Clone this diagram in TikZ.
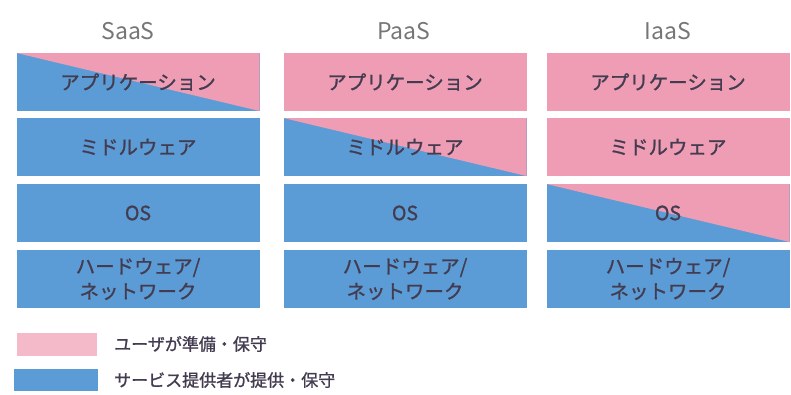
\documentclass[tikz,border=0pt]{standalone}
\usepackage{fontspec}
\newfontfamily\jp{Noto Sans CJK JP}
\newfontfamily\jpb[FakeBold=1.2]{Noto Sans CJK JP}
\definecolor{upink}{HTML}{EE9DB4}
\definecolor{sblue}{HTML}{5C9CD6}
\definecolor{lpink}{HTML}{F5BACA}
\definecolor{txt}{HTML}{433C50}
\definecolor{ttl}{HTML}{767676}
\begin{document}
\begin{tikzpicture}[x=1pt,y=-1pt,
  layer/.style={rectangle, inner sep=0pt, minimum width=243pt, minimum height=58pt,
    font=\jpb\fontsize{19.5}{25}\selectfont, text=txt, align=center},
  userbox/.style={layer, fill=upink},
  provbox/.style={layer, fill=sblue},
  splitbox/.style={layer, fill=sblue,
    path picture={\fill[upink] (path picture bounding box.north west) -- (path picture bounding box.north east) -- (path picture bounding box.south east) -- cycle;}},
  title/.style={font=\jp\fontsize{23}{26}\selectfont, text=ttl},
  legtext/.style={font=\jpb\fontsize{17}{20}\selectfont, text=txt, anchor=west, inner sep=0pt},
  legbox/.style={rectangle, inner sep=0pt, minimum width=80pt, minimum height=23pt}]
\useasboundingbox (0,0) rectangle (791,394);

% titles
\node[title] (tS) at (128,31) {SaaS};
\node[title] (tP) at (404,31) {PaaS};
\node[title] (tI) at (668,31) {IaaS};

% SaaS column
\node[splitbox] (s1) at (138,82) {アプリケーション};
\node[provbox] (s2) at (138,147) {ミドルウェア};
\node[provbox] (s3) at (138,213) {OS};
\node[provbox] (s4) at (138,279) {ハードウェア/\\ネットワーク};

% PaaS column
\node[userbox] (p1) at (405,82) {アプリケーション};
\node[splitbox] (p2) at (405,147) {ミドルウェア};
\node[provbox] (p3) at (405,213) {OS};
\node[provbox] (p4) at (405,279) {ハードウェア/\\ネットワーク};

% IaaS column
\node[userbox] (i1) at (668,82) {アプリケーション};
\node[userbox] (i2) at (668,147) {ミドルウェア};
\node[splitbox] (i3) at (668,213) {OS};
\node[provbox] (i4) at (668,279) {ハードウェア/\\ネットワーク};

% legend
\node[legbox, fill=lpink] (lp) at (57,344) {};
\node[legtext] (lpt) at (114,344) {ユーザが準備・保守};
\node[legbox, fill=sblue, minimum width=84pt, minimum height=22pt] (lb) at (56,380) {};
\node[legtext] (lbt) at (114,380) {サービス提供者が提供・保守};
\end{tikzpicture}
\end{document}
